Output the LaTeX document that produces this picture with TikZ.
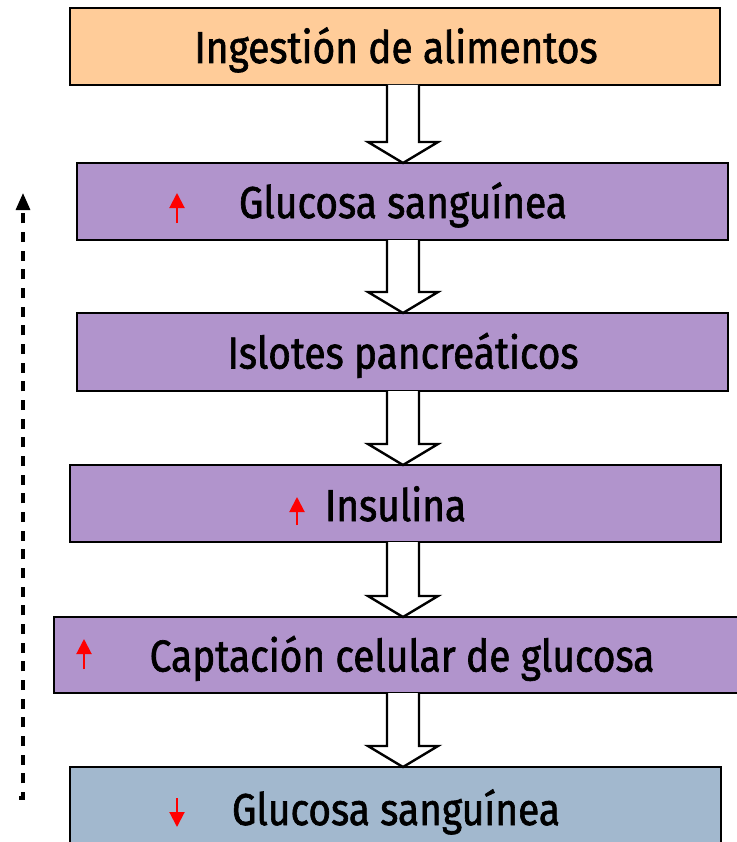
\documentclass[tikz,border=0pt]{standalone}
\usepackage{fontspec}
\setmainfont{Fira Sans}[FakeStretch=0.87,FakeBold=1.4]
\usetikzlibrary{arrows.meta,calc}
\definecolor{orangefill}{RGB}{255,204,153}
\definecolor{purplefill}{RGB}{177,148,204}
\definecolor{bluefill}{RGB}{162,184,206}
\newcommand\blockarr[2]{%
 \draw[blockarrow] let \p1=(#1.south), \p2=(#2.north) in
 (290.25pt,\y1) -- (290.25pt,\y2+15.75pt) -- (276pt,\y2+15.75pt) -- (302.25pt,\y2)
 -- (328.5pt,\y2+15.75pt) -- (314.25pt,\y2+15.75pt) -- (314.25pt,\y1);}
\begin{document}
\begin{tikzpicture}[x=0.75pt,y=-0.75pt,
 box/.style={draw=black, line width=1.8pt, outer sep=0pt, inner sep=0pt},
 lbl/.style={anchor=base, inner sep=0pt, font=\fontsize{33.5}{36}\selectfont},
 blockarrow/.style={draw=black, fill=white, line width=1.8pt, line join=miter},
 redarrow/.style={red, line width=1.5pt, -{Triangle[width=11.25pt,length=11.25pt]}},
 loopback/.style={black, line width=2.3pt, dash pattern=on 7.5pt off 6.5pt, -{Triangle[width=10.5pt,length=12.75pt]}}]
\useasboundingbox[fill=white] (0,0) rectangle (737,842);
% boxes
\node[box, fill=orangefill, minimum width=487.5pt, minimum height=57.75pt] (b1) at (395,46.5) {};
\node[box, fill=purplefill, minimum width=488.25pt, minimum height=57.75pt] (b2) at (402.5,201.5) {};
\node[box, fill=purplefill, minimum width=488.25pt, minimum height=58.5pt] (b3) at (402.5,352) {};
\node[box, fill=purplefill, minimum width=488.25pt, minimum height=57.75pt] (b4) at (395.5,503.5) {};
\node[box, fill=purplefill, minimum width=514.5pt, minimum height=57pt] (b5) at (397,655) {};
\node[box, fill=bluefill, minimum width=488.25pt, minimum height=58.5pt] (b6) at (395.5,806) {};
% block arrows
\blockarr{b1}{b2}
\blockarr{b2}{b3}
\blockarr{b3}{b4}
\blockarr{b4}{b5}
\blockarr{b5}{b6}
% labels
\node[lbl] (t1) at (396,63) {Ingestión de alimentos};
\node[lbl] (t2) at (403,218) {Glucosa sanguínea};
\node[lbl] (t3) at (403,368.5) {Islotes pancreáticos};
\node[lbl] (t4) at (395.5,521) {Insulina};
\node[lbl] (t5) at (402,671.5) {Captación celular de glucosa};
\node[lbl] (t6) at (396,825) {Glucosa sanguínea};
% red indicator arrows
\draw[redarrow] (177,223) -- (177,193);
\draw[redarrow] (297,525) -- (297,497);
\draw[redarrow] (84,669) -- (84,639);
\draw[redarrow] (177,798) -- (177,827);
% feedback dashed arrow
\coordinate (fbstart) at (19,798);
\coordinate (fbend) at (23,193);
\draw[loopback] (fbstart) -| (fbend);
\end{tikzpicture}
\end{document}
